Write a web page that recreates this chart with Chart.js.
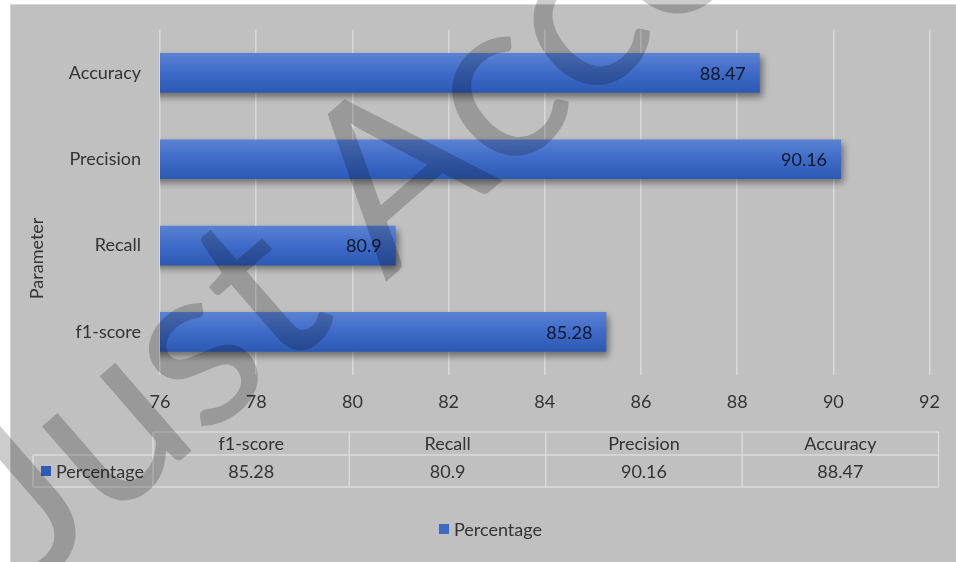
<!DOCTYPE html>
<html>
<head>
<meta charset="utf-8">
<script src="https://cdn.jsdelivr.net/npm/chart.js@4.4.1/dist/chart.umd.min.js"></script>
<style>
  html, body { margin: 0; padding: 0; background: #ffffff; }
  #chart { display: block; }
</style>
</head>
<body>
<canvas id="chart" width="956" height="562"></canvas>
<script>
// data (Excel order: first category at the bottom)
const categories = ['f1-score', 'Recall', 'Precision', 'Accuracy'];
const percentage = [85.28, 80.9, 90.16, 88.47];
const seriesName = 'Percentage';
const axisTitle = 'Parameter';
const xMin = 76;
const xMax = 92;
const xStep = 2;
const watermark = 'Just Accepted';

const FONT = 'Lato';
const TEXT = '#333333';
const BAR_RATIO = 0.46;

Chart.defaults.font.family = FONT;
Chart.defaults.font.size = 18;
Chart.defaults.color = TEXT;

function barGradient(context) {
    const chart = context.chart;
    const y = chart.scales.y;
    if (!chart.chartArea || !y) return '#4472c4';
    const c = y.getPixelForValue(context.dataIndex);
    const half = (y.height / categories.length) * BAR_RATIO / 2;
    const g = chart.ctx.createLinearGradient(0, c - half, 0, c + half);
    g.addColorStop(0, '#5a82d3');
    g.addColorStop(0.5, '#3f6bc8');
    g.addColorStop(1, '#2c59b4');
    return g;
}

const excelLook = {
    id: 'excelLook',
    beforeDraw(chart) {
        const ctx = chart.ctx;
        ctx.save();
        ctx.fillStyle = '#ffffff';
        ctx.fillRect(0, 0, chart.width, chart.height);
        ctx.fillStyle = '#c0c0c0';
        ctx.fillRect(10, 4, chart.width - 10, chart.height - 4);
        ctx.strokeStyle = '#d6d6d6';
        ctx.lineWidth = 1;
        ctx.beginPath();
        ctx.moveTo(10, 4.5);
        ctx.lineTo(chart.width, 4.5);
        ctx.moveTo(10.5, 4);
        ctx.lineTo(10.5, chart.height);
        ctx.stroke();
        ctx.restore();
    },
    beforeDatasetDraw(chart) {
        const ctx = chart.ctx;
        ctx.save();
        ctx.shadowColor = 'rgba(0, 0, 0, 0.45)';
        ctx.shadowBlur = 7;
        ctx.shadowOffsetX = 3;
        ctx.shadowOffsetY = 4;
    },
    afterDatasetDraw(chart) {
        chart.ctx.restore();
    },
    afterDatasetsDraw(chart) {
        // value labels at the inner end of each bar
        const ctx = chart.ctx;
        const meta = chart.getDatasetMeta(0);
        ctx.save();
        ctx.font = '18px ' + FONT;
        ctx.fillStyle = '#101828';
        ctx.textAlign = 'right';
        ctx.textBaseline = 'middle';
        meta.data.forEach((bar, i) => {
            ctx.fillText(String(percentage[i]), bar.x - 14, bar.y + 1);
        });
        ctx.restore();
    },
    afterDraw(chart) {
        const ctx = chart.ctx;
        const ca = chart.chartArea;

        // data table under the axis
        const tLeft = ca.left - 7;
        const tRight = ca.right + 9;
        const colW = (tRight - tLeft) / categories.length;
        const labelLeft = 33;
        const r0 = ca.bottom + 57;
        const r1 = ca.bottom + 80;
        const r2 = ca.bottom + 112;
        ctx.save();
        ctx.strokeStyle = '#d9d9d9';
        ctx.lineWidth = 1.5;
        ctx.beginPath();
        ctx.moveTo(tLeft, r0); ctx.lineTo(tRight, r0);
        ctx.moveTo(labelLeft, r1); ctx.lineTo(tRight, r1);
        ctx.moveTo(labelLeft, r2); ctx.lineTo(tRight, r2);
        ctx.moveTo(labelLeft, r1); ctx.lineTo(labelLeft, r2);
        for (let i = 0; i <= categories.length; i++) {
            const x = tLeft + i * colW;
            ctx.moveTo(x, r0); ctx.lineTo(x, r2);
        }
        ctx.stroke();

        ctx.font = '18px ' + FONT;
        ctx.fillStyle = TEXT;
        ctx.textAlign = 'center';
        ctx.textBaseline = 'middle';
        categories.forEach((c, i) => {
            const cx = tLeft + (i + 0.5) * colW;
            ctx.fillText(c, cx, (r0 + r1) / 2 + 1);
            ctx.fillText(String(percentage[i]), cx, (r1 + r2) / 2 + 1);
        });
        ctx.fillStyle = '#2f5cb8';
        ctx.fillRect(41, (r1 + r2) / 2 - 5, 10, 10);
        ctx.fillStyle = TEXT;
        ctx.textAlign = 'left';
        ctx.fillText(seriesName, 56, (r1 + r2) / 2 + 1);

        // legend
        const ly = 529;
        ctx.fillStyle = '#3d68c4';
        ctx.fillRect(439, ly - 5, 10, 10);
        ctx.fillStyle = TEXT;
        ctx.fillText(seriesName, 454, ly + 1);

        // vertical axis title, centred over plot + table like Excel does
        ctx.save();
        ctx.translate(37, (ca.top + r2) / 2);
        ctx.rotate(-Math.PI / 2);
        ctx.textAlign = 'center';
        ctx.fillStyle = TEXT;
        ctx.fillText(axisTitle, 0, 0);
        ctx.restore();

        // watermark
        ctx.translate(36, 586);
        ctx.rotate(-41 * Math.PI / 180);
        ctx.font = '230px ' + FONT;
        ctx.fillStyle = 'rgba(0, 0, 0, 0.2)';
        ctx.textBaseline = 'alphabetic';
        ctx.fillText(watermark, 0, 0);
        ctx.restore();
    }
};

new Chart(document.getElementById('chart'), {
    type: 'bar',
    data: {
        labels: categories,
        datasets: [{
            label: seriesName,
            data: percentage,
            backgroundColor: barGradient,
            borderWidth: 0,
            barPercentage: BAR_RATIO,
            categoryPercentage: 1
        }]
    },
    options: {
        indexAxis: 'y',
        responsive: false,
        animation: false,
        devicePixelRatio: 1,
        layout: {
            padding: { left: 10, right: 23, top: 28, bottom: 0 }
        },
        plugins: {
            legend: { display: false },
            tooltip: { enabled: false }
        },
        scales: {
            x: {
                min: xMin,
                max: xMax,
                ticks: { stepSize: xStep, padding: 16, color: TEXT },
                grid: { color: '#d9d9d9', lineWidth: 1.5, drawTicks: false },
                border: { display: false },
                afterFit(scale) { scale.height = 187; }
            },
            y: {
                reverse: true,
                ticks: { padding: 19, color: TEXT },
                grid: { display: false, drawTicks: false },
                border: { display: false },
                afterFit(scale) { scale.width = 150; }
            }
        }
    },
    plugins: [excelLook]
});
</script>
</body>
</html>
